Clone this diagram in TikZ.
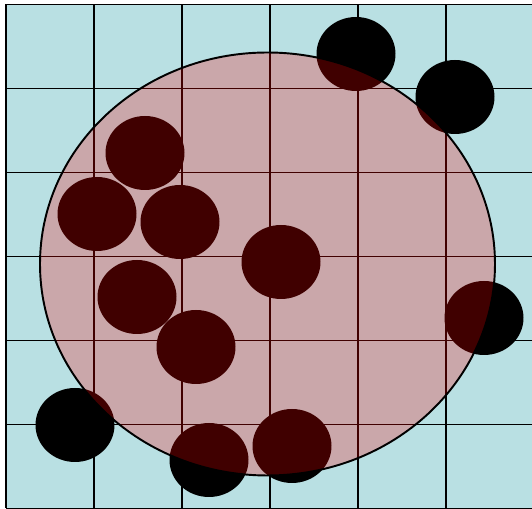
\documentclass[tikz,border=0pt]{standalone}
\usepackage{tikz}
\definecolor{cellcyan}{RGB}{185,224,227}
\tikzset{
  gridline/.style={black, line width=1.1pt},
  particle/.style={black},
  region/.style={fill=red, fill opacity=0.25},
}

\begin{document}
\begin{tikzpicture}[x=0.02cm, y=-0.02cm]
\useasboundingbox (0,0) rectangle (532,509);
% cells
\fill[cellcyan] (6,4.5) rectangle (534,508.5);
\foreach \i in {0,...,6} {
  \draw[gridline] (6+88*\i,4.5) -- (6+88*\i,508.5);
  \draw[gridline] (6,4.5+84*\i) -- (534,4.5+84*\i);
}
% particles
\foreach \px/\py in {356/54, 455/97, 145/153, 97/214, 180/222, 281/262,
                     137/297, 196/347, 484/318, 75/425, 209/460, 292/446}
  \fill[particle] (\px,\py) ellipse (39.5 and 37);
% sampling region
\fill[region] (267.5,264) ellipse (227.5 and 211.5);
\draw[black, line width=1.1pt] (267.5,264) ellipse (227.5 and 211.5);
\end{tikzpicture}
\end{document}
